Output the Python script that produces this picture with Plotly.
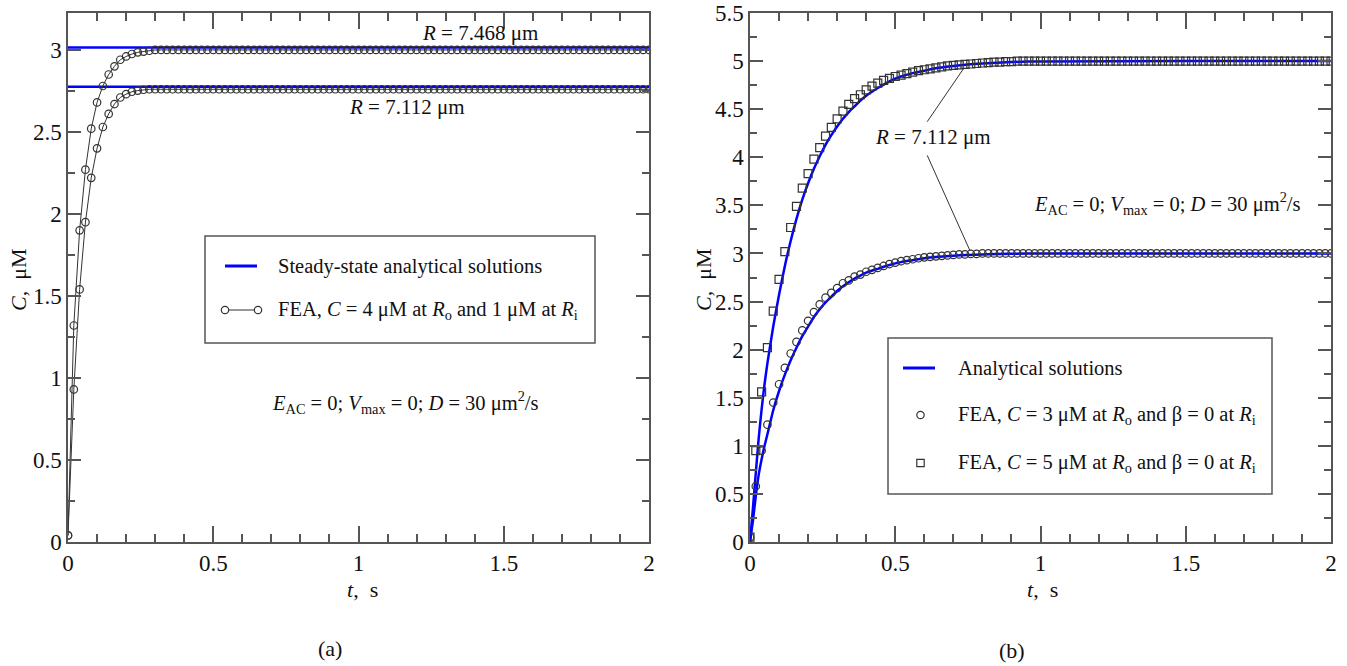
import plotly.graph_objects as go

W, H = 1347, 666
FONT = "Liberation Serif"

# ---------------- data ----------------
# sample times of the FEA results (s)
t_fea = [round(0.02 * i, 2) for i in range(101)]

# panel (a): FEA, C = 4 uM at Ro and 1 uM at Ri
fea_a_R7468 = [0.04, 1.32, 1.90, 2.27, 2.52, 2.68, 2.78, 2.85, 2.90, 2.94,
               2.96, 2.975, 2.985, 2.99, 2.995,
               3.0, 3.0, 3.0, 3.0, 3.0, 3.0, 3.0, 3.0, 3.0, 3.0,
               3.0, 3.0, 3.0, 3.0, 3.0, 3.0, 3.0, 3.0, 3.0, 3.0,
               3.0, 3.0, 3.0, 3.0, 3.0, 3.0, 3.0, 3.0, 3.0, 3.0,
               3.0, 3.0, 3.0, 3.0, 3.0, 3.0, 3.0, 3.0, 3.0, 3.0,
               3.0, 3.0, 3.0, 3.0, 3.0, 3.0, 3.0, 3.0, 3.0, 3.0,
               3.0, 3.0, 3.0, 3.0, 3.0, 3.0, 3.0, 3.0, 3.0, 3.0,
               3.0, 3.0, 3.0, 3.0, 3.0, 3.0, 3.0, 3.0, 3.0, 3.0,
               3.0, 3.0, 3.0, 3.0, 3.0, 3.0, 3.0, 3.0, 3.0, 3.0,
               3.0, 3.0, 3.0, 3.0, 3.0, 3.0]
fea_a_R7112 = [0.04, 0.93, 1.54, 1.95, 2.22, 2.40, 2.53, 2.61, 2.67, 2.71,
               2.73, 2.745, 2.752, 2.757,
               2.76, 2.76, 2.76, 2.76, 2.76, 2.76, 2.76, 2.76, 2.76, 2.76,
               2.76, 2.76, 2.76, 2.76, 2.76, 2.76, 2.76, 2.76, 2.76, 2.76,
               2.76, 2.76, 2.76, 2.76, 2.76, 2.76, 2.76, 2.76, 2.76, 2.76,
               2.76, 2.76, 2.76, 2.76, 2.76, 2.76, 2.76, 2.76, 2.76, 2.76,
               2.76, 2.76, 2.76, 2.76, 2.76, 2.76, 2.76, 2.76, 2.76, 2.76,
               2.76, 2.76, 2.76, 2.76, 2.76, 2.76, 2.76, 2.76, 2.76, 2.76,
               2.76, 2.76, 2.76, 2.76, 2.76, 2.76, 2.76, 2.76, 2.76, 2.76,
               2.76, 2.76, 2.76, 2.76, 2.76, 2.76, 2.76, 2.76, 2.76, 2.76,
               2.76, 2.76, 2.76, 2.76, 2.76, 2.76, 2.76]
# steady-state analytical solutions (horizontal lines)
t_steady = [0.0, 2.0]
steady_R7468 = [3.015, 3.015]
steady_R7112 = [2.775, 2.775]

# panel (b): FEA with beta = 0 at Ri
fea_b_C3 = [0.05, 0.58, 0.95, 1.22, 1.45, 1.64, 1.81, 1.96, 2.08, 2.20,
            2.30, 2.39, 2.47, 2.54, 2.59, 2.64, 2.69, 2.72, 2.76, 2.78,
            2.81, 2.83, 2.85, 2.87, 2.89, 2.905, 2.92, 2.93, 2.94, 2.95,
            2.96, 2.965, 2.97, 2.975, 2.98, 2.985, 2.99, 2.99, 2.995, 2.995,
            3.0, 3.0, 3.0, 3.0, 3.0, 3.0, 3.0, 3.0, 3.0, 3.0,
            3.0, 3.0, 3.0, 3.0, 3.0, 3.0, 3.0, 3.0, 3.0, 3.0,
            3.0, 3.0, 3.0, 3.0, 3.0, 3.0, 3.0, 3.0, 3.0, 3.0,
            3.0, 3.0, 3.0, 3.0, 3.0, 3.0, 3.0, 3.0, 3.0, 3.0,
            3.0, 3.0, 3.0, 3.0, 3.0, 3.0, 3.0, 3.0, 3.0, 3.0,
            3.0, 3.0, 3.0, 3.0, 3.0, 3.0, 3.0, 3.0, 3.0, 3.0,
            3.0]
fea_b_C5 = [0.05, 0.95, 1.56, 2.02, 2.40, 2.73, 3.02, 3.27, 3.49, 3.68,
            3.83, 3.98, 4.10, 4.22, 4.31, 4.40, 4.48, 4.55, 4.61, 4.65,
            4.70, 4.74, 4.77, 4.80, 4.82, 4.84, 4.855, 4.87, 4.885, 4.90,
            4.91, 4.92, 4.93, 4.94, 4.95, 4.955, 4.96, 4.965, 4.97, 4.975,
            4.98, 4.985, 4.99, 4.99, 4.995, 4.995,
            5.0, 5.0, 5.0, 5.0, 5.0, 5.0, 5.0, 5.0, 5.0, 5.0,
            5.0, 5.0, 5.0, 5.0, 5.0, 5.0, 5.0, 5.0, 5.0, 5.0,
            5.0, 5.0, 5.0, 5.0, 5.0, 5.0, 5.0, 5.0, 5.0, 5.0,
            5.0, 5.0, 5.0, 5.0, 5.0, 5.0, 5.0, 5.0, 5.0, 5.0,
            5.0, 5.0, 5.0, 5.0, 5.0, 5.0, 5.0, 5.0, 5.0, 5.0,
            5.0, 5.0, 5.0, 5.0, 5.0]
# analytical solutions
t_anal = [0.0, 0.01, 0.02, 0.03, 0.04, 0.05, 0.06, 0.08, 0.10, 0.12,
          0.14, 0.16, 0.18, 0.20, 0.22, 0.24, 0.26, 0.28, 0.30, 0.32,
          0.34, 0.36, 0.38, 0.40, 0.44, 0.48, 0.52, 0.56, 0.60, 0.65,
          0.70, 0.75, 0.80, 0.90, 1.0, 1.5, 2.0]
anal_C3 = [0.0, 0.22, 0.48, 0.70, 0.86, 1.00, 1.12, 1.37, 1.57, 1.74,
           1.89, 2.02, 2.14, 2.24, 2.34, 2.42, 2.49, 2.55, 2.61, 2.66,
           2.70, 2.74, 2.77, 2.80, 2.84, 2.88, 2.91, 2.93, 2.95, 2.965,
           2.977, 2.985, 2.99, 2.996, 3.0, 3.0, 3.0]
anal_C5 = [0.0, 0.35, 0.72, 1.08, 1.38, 1.64, 1.86, 2.24, 2.57, 2.87,
           3.13, 3.36, 3.56, 3.73, 3.88, 4.01, 4.13, 4.23, 4.32, 4.40,
           4.47, 4.53, 4.59, 4.64, 4.72, 4.79, 4.84, 4.875, 4.90, 4.93,
           4.95, 4.965, 4.975, 4.99, 4.997, 5.0, 5.0]

# ---------------- figure ----------------
BLUE = "#0000ff"
MK = "#333333"
AX = "#555555"


def px(x):
    return x / W


def py(y):
    return 1 - y / H


fig = go.Figure()

# panel (a)
for yv in (steady_R7468, steady_R7112):
    fig.add_trace(go.Scatter(x=t_steady, y=yv, mode="lines",
                             line=dict(color=BLUE, width=2.5),
                             xaxis="x", yaxis="y", showlegend=False,
                             name="Steady-state analytical solutions"))
for yv in (fea_a_R7468, fea_a_R7112):
    fig.add_trace(go.Scatter(x=t_fea, y=yv, mode="lines+markers",
                             line=dict(color=MK, width=1),
                             marker=dict(symbol="circle-open", size=7.5,
                                         color=MK, line=dict(width=1.2)),
                             xaxis="x", yaxis="y", showlegend=False,
                             name="FEA"))

# panel (b)
for yv in (anal_C5, anal_C3):
    fig.add_trace(go.Scatter(x=t_anal, y=yv, mode="lines",
                             line=dict(color=BLUE, width=2.5, shape="spline", smoothing=0.6),
                             xaxis="x2", yaxis="y2", showlegend=False,
                             name="Analytical solutions"))
fig.add_trace(go.Scatter(x=t_fea, y=fea_b_C3, mode="markers",
                         marker=dict(symbol="circle-open", size=7.5, color=MK,
                                     line=dict(width=1.2)),
                         xaxis="x2", yaxis="y2", showlegend=False,
                         name="FEA, C = 3 uM"))
fig.add_trace(go.Scatter(x=t_fea, y=fea_b_C5, mode="markers",
                         marker=dict(symbol="square-open", size=8, color=MK,
                                     line=dict(width=1.2)),
                         xaxis="x2", yaxis="y2", showlegend=False,
                         name="FEA, C = 5 uM"))

tickfont = dict(family=FONT, size=23, color="#111111")


def xaxis(domain, anchor):
    return dict(domain=domain, anchor=anchor, range=[0, 2], automargin=False,
                showline=True, linecolor=AX, linewidth=1.5, mirror="allticks",
                ticks="inside", ticklen=16, tickwidth=1.5, tickcolor=AX,
                tick0=0, dtick=0.5,
                minor=dict(dtick=0.1, ticks="inside", ticklen=8,
                           tickwidth=1.5, tickcolor=AX),
                showgrid=False, zeroline=False, tickfont=tickfont)


def yaxis(domain, anchor, rng):
    return dict(domain=domain, anchor=anchor, range=rng, automargin=False,
                showline=True, linecolor=AX, linewidth=1.5, mirror="allticks",
                ticks="inside", ticklen=13, tickwidth=1.5, tickcolor=AX,
                tick0=0, dtick=0.5,
                minor=dict(dtick=0.25, ticks="inside", ticklen=7,
                           tickwidth=1.5, tickcolor=AX),
                showgrid=False, zeroline=False, tickfont=tickfont)


ydom = [py(542), py(13)]
fig.update_layout(
    width=W, height=H, margin=dict(l=0, r=0, t=0, b=0, autoexpand=False),
    paper_bgcolor="white", plot_bgcolor="white",
    showlegend=False,
    xaxis=xaxis([px(68), px(649)], "y"),
    yaxis=yaxis(ydom, "x", [0, 3.225]),
    xaxis2=xaxis([px(750), px(1331)], "y2"),
    yaxis2=yaxis(ydom, "x2", [0, 5.5]),
)

ann = []


def text(x, y, s, size=20, xanchor="center", angle=0):
    ann.append(dict(x=px(x), y=py(y), xref="paper", yref="paper", text=s,
                    showarrow=False, xanchor=xanchor, yanchor="middle",
                    textangle=angle,
                    font=dict(family=FONT, size=size, color="#111111")))


# axis titles
text(362, 589, "<i>t</i>,  s", 22)
text(1042, 589, "<i>t</i>,  s", 22)
text(18, 280, "<i>C</i>,  μM", 22, angle=-90)
text(703, 280, "<i>C</i>,  μM", 22, angle=-90)
# captions
text(330, 648, "(a)", 22)
text(1012, 650, "(b)", 22)

# panel (a) labels
text(480, 33, "<i>R</i> = 7.468 μm", 21)
text(407, 107, "<i>R</i> = 7.112 μm", 21)
text(405, 402, "<i>E</i><sub>AC</sub> = 0; <i>V</i><sub>max</sub> = 0; <i>D</i> = 30 μm<sup>2</sup>/s", 20.5)
text(276, 266, "Steady-state analytical solutions", 20.5, xanchor="left")
text(276, 310, "FEA, <i>C</i> = 4 μM at <i>R</i><sub>o</sub> and 1 μM at <i>R</i><sub>i</sub>", 20.5, xanchor="left")

# panel (b) labels
text(933, 137, "<i>R</i> = 7.112 μm", 21)
text(1167, 203, "<i>E</i><sub>AC</sub> = 0; <i>V</i><sub>max</sub> = 0; <i>D</i> = 30 μm<sup>2</sup>/s", 20.5)
text(956, 368, "Analytical solutions", 20.5, xanchor="left")
text(956, 415, "FEA, <i>C</i> = 3 μM at <i>R</i><sub>o</sub> and β = 0 at <i>R</i><sub>i</sub>", 20.5, xanchor="left")
text(956, 463, "FEA, <i>C</i> = 5 μM at <i>R</i><sub>o</sub> and β = 0 at <i>R</i><sub>i</sub>", 20.5, xanchor="left")

fig.update_layout(annotations=ann)

shapes = []
# legend boxes
shapes.append(dict(type="rect", xref="paper", yref="paper",
                   x0=px(205), x1=px(595), y0=py(343), y1=py(236),
                   line=dict(color=AX, width=1.5), fillcolor="rgba(0,0,0,0)", layer="above"))
shapes.append(dict(type="rect", xref="paper", yref="paper",
                   x0=px(888), x1=px(1272), y0=py(494), y1=py(338),
                   line=dict(color=AX, width=1.5), fillcolor="rgba(0,0,0,0)", layer="above"))
# legend (a) symbols
shapes.append(dict(type="line", xref="paper", yref="paper",
                   x0=px(225), x1=px(257), y0=py(266), y1=py(266),
                   line=dict(color=BLUE, width=3)))
shapes.append(dict(type="line", xref="paper", yref="paper",
                   x0=px(225), x1=px(258), y0=py(310), y1=py(310),
                   line=dict(color=MK, width=1)))
r = 3.7
for cx in (225, 258):
    shapes.append(dict(type="circle", xref="paper", yref="paper",
                       x0=px(cx - r), x1=px(cx + r), y0=py(310 + r), y1=py(310 - r),
                       line=dict(color=MK, width=1.2), fillcolor="white"))
# legend (b) symbols
shapes.append(dict(type="line", xref="paper", yref="paper",
                   x0=px(903), x1=px(935), y0=py(368), y1=py(368),
                   line=dict(color=BLUE, width=3)))
shapes.append(dict(type="circle", xref="paper", yref="paper",
                   x0=px(920.5 - r), x1=px(920.5 + r), y0=py(415 + r), y1=py(415 - r),
                   line=dict(color=MK, width=1.2)))
shapes.append(dict(type="rect", xref="paper", yref="paper",
                   x0=px(920.5 - r), x1=px(920.5 + r), y0=py(463 + r), y1=py(463 - r),
                   line=dict(color=MK, width=1.2)))
# leader lines in panel (b)
shapes.append(dict(type="line", xref="x2", yref="y2", x0=0.61, y0=4.37, x1=0.737, y1=4.93,
                   line=dict(color="#333333", width=1)))
shapes.append(dict(type="line", xref="x2", yref="y2", x0=0.61, y0=4.02, x1=0.757, y1=3.03,
                   line=dict(color="#333333", width=1)))
fig.update_layout(shapes=shapes)

fig.write_html("out.html")
